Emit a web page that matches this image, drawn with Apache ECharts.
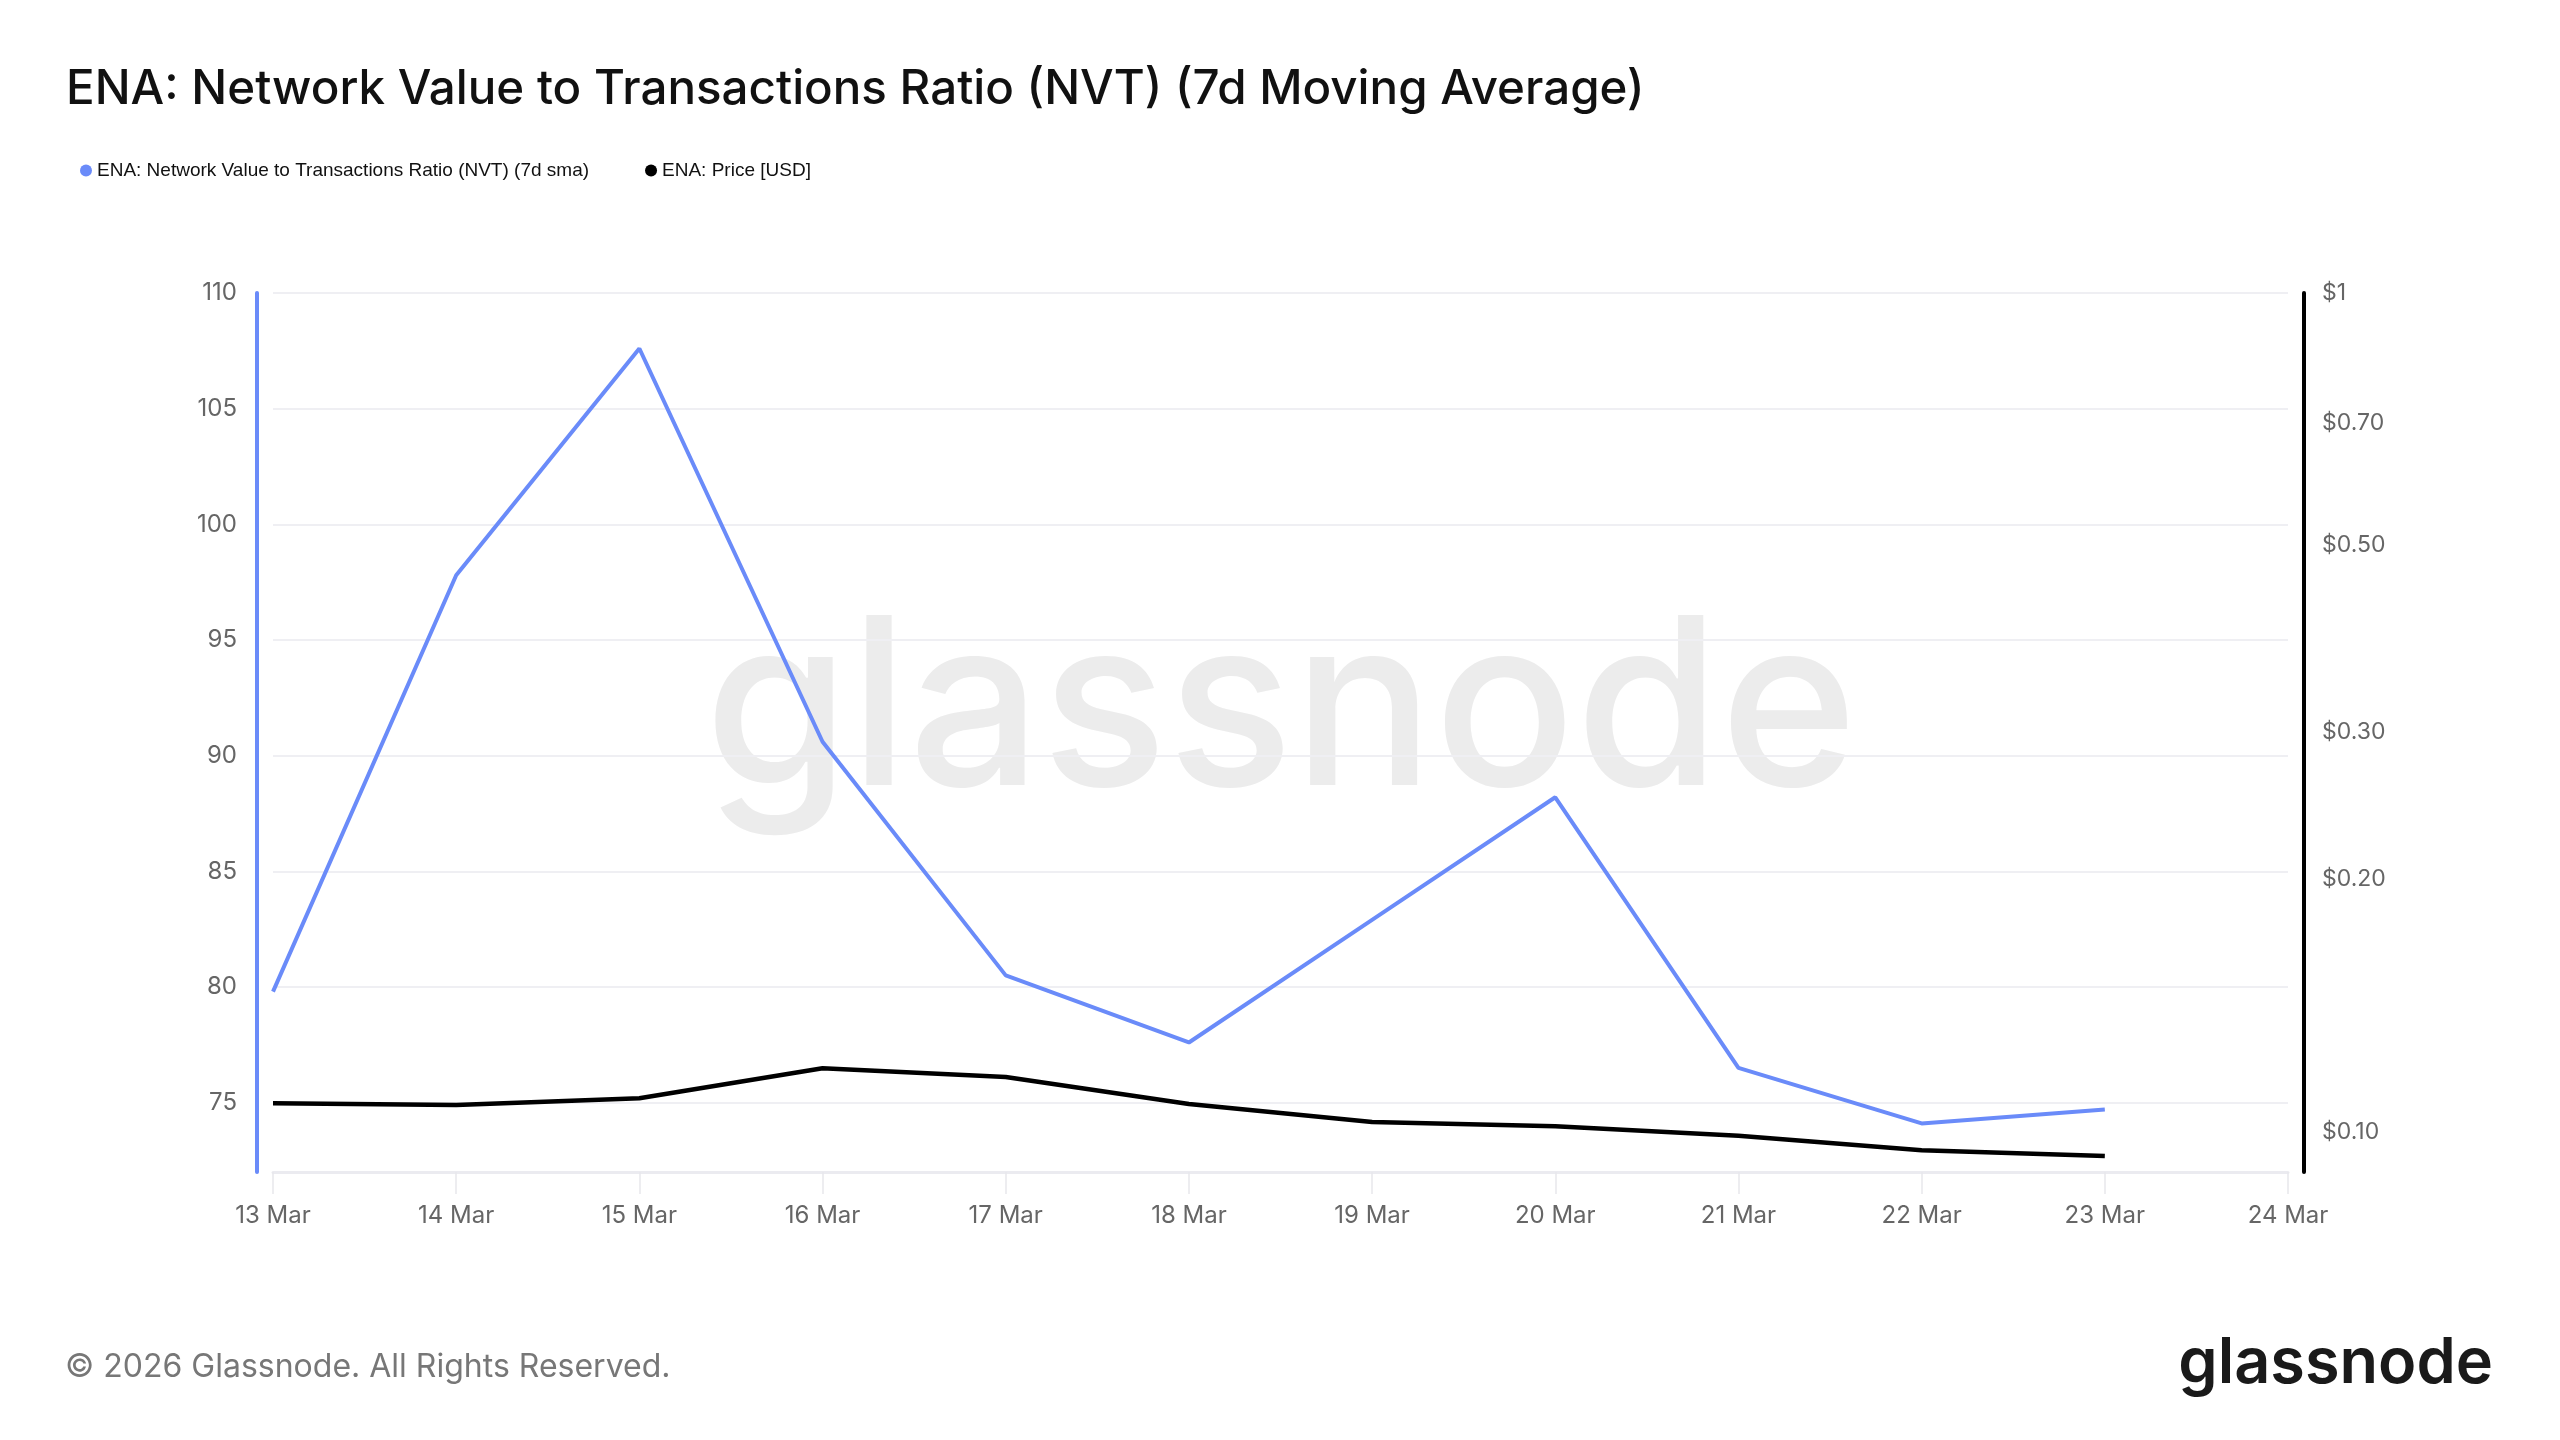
<!DOCTYPE html>
<html>
<head>
<meta charset="utf-8">
<script src="https://cdn.jsdelivr.net/npm/echarts@6/dist/echarts.min.js"></script>
<style>
  html, body { margin: 0; padding: 0; background: #fff; }
  #chart { width: 2560px; height: 1440px; }
</style>
</head>
<body>
<div id="chart"></div>
<script>
// dates on the x axis (24 Mar has no data yet)
const days = ['13 Mar', '14 Mar', '15 Mar', '16 Mar', '17 Mar', '18 Mar', '19 Mar', '20 Mar', '21 Mar', '22 Mar', '23 Mar', '24 Mar']

// NVT 7d sma
const nvt = [79.8, 97.8, 107.6, 90.6, 80.5, 77.6, 82.9, 88.2, 76.5, 74.1, 74.7]

// ENA price in USD
const price = [0.1082, 0.1077, 0.1097, 0.1191, 0.1163, 0.1080, 0.1028, 0.1016, 0.0990, 0.0951, 0.0936]

// tick labels
const nvtTicks = [75, 80, 85, 90, 95, 100, 105, 110]
const priceTicks = [0.1, 0.2, 0.3, 0.5, 0.7, 1]

const nvtName = 'ENA: Network Value to Transactions Ratio (NVT) (7d sma)'
const priceName = 'ENA: Price [USD]'
const blue = '#6A8BF9'

const chart = echarts.init(document.getElementById('chart'))

const option = {
  backgroundColor: '#fff',
  animation: false,
  title: {
    text: 'ENA: Network Value to Transactions Ratio (NVT) (7d Moving Average)',
    left: 61,
    top: 61,
    textStyle: { fontFamily: 'Inter', fontSize: 47.5, fontWeight: 500, color: '#111' }
  },
  legend: {
    left: 75,
    top: 156,
    icon: 'circle',
    itemWidth: 12,
    itemHeight: 12,
    itemGap: 56,
    textStyle: { fontFamily: 'Liberation Sans', fontSize: 19, color: '#111' },
    data: [nvtName, priceName]
  },
  grid: { left: 273, right: 272, top: 293, bottom: 268 },
  xAxis: {
    type: 'category',
    boundaryGap: false,
    data: days,
    axisLine: { lineStyle: { color: '#EBEBF0', width: 3 } },
    axisTick: { show: true, length: 22, lineStyle: { color: '#E8E8EC', width: 1.5 } },
    axisLabel: { margin: 32, fontFamily: 'Inter', fontSize: 24, color: '#666' },
    splitLine: { show: false }
  },
  yAxis: [
    {
      type: 'value',
      min: 72,
      max: 110,
      position: 'left',
      offset: 16,
      axisLine: { show: true, lineStyle: { color: blue, width: 4 } },
      axisTick: { show: false, customValues: nvtTicks },
      axisLabel: { customValues: nvtTicks, margin: 20, fontFamily: 'Inter', fontSize: 24, color: '#666' },
      splitLine: { show: true, lineStyle: { color: '#EFEFF3', width: 2 } }
    },
    {
      type: 'log',
      logBase: 10,
      min: 0.0896,
      max: 1,
      position: 'right',
      offset: 16,
      axisLine: { show: true, lineStyle: { color: '#000', width: 4 } },
      axisTick: { show: false, customValues: priceTicks },
      axisLabel: {
        customValues: priceTicks,
        margin: 18,
        fontFamily: 'Inter',
        fontSize: 23,
        color: '#666',
        formatter: v => (v === 1 ? '$1' : '$' + v.toFixed(2))
      },
      splitLine: { show: false }
    }
  ],
  graphic: [
    {
      type: 'text',
      x: 1281,
      y: 715,
      z: 0,
      silent: true,
      style: { text: 'glassnode', font: '500 234px Inter', fill: '#ECECEC', align: 'center', verticalAlign: 'middle' }
    },
    {
      type: 'text',
      left: 65,
      top: 1351,
      style: { text: '© 2026 Glassnode. All Rights Reserved.', font: '32px Inter', fill: '#777' }
    },
    {
      type: 'text',
      right: 67,
      top: 1333,
      style: { text: 'glassnode', font: '600 63px Inter', fill: '#1a1a1a' }
    }
  ],
  series: [
    {
      name: nvtName,
      type: 'line',
      yAxisIndex: 0,
      data: nvt,
      symbol: 'none',
      lineStyle: { color: blue, width: 4 },
      itemStyle: { color: blue },
      z: 3
    },
    {
      name: priceName,
      type: 'line',
      yAxisIndex: 1,
      data: price,
      symbol: 'none',
      lineStyle: { color: '#000', width: 4.5 },
      itemStyle: { color: '#000' },
      z: 2
    }
  ]
}

chart.setOption(option)
</script>
</body>
</html>
